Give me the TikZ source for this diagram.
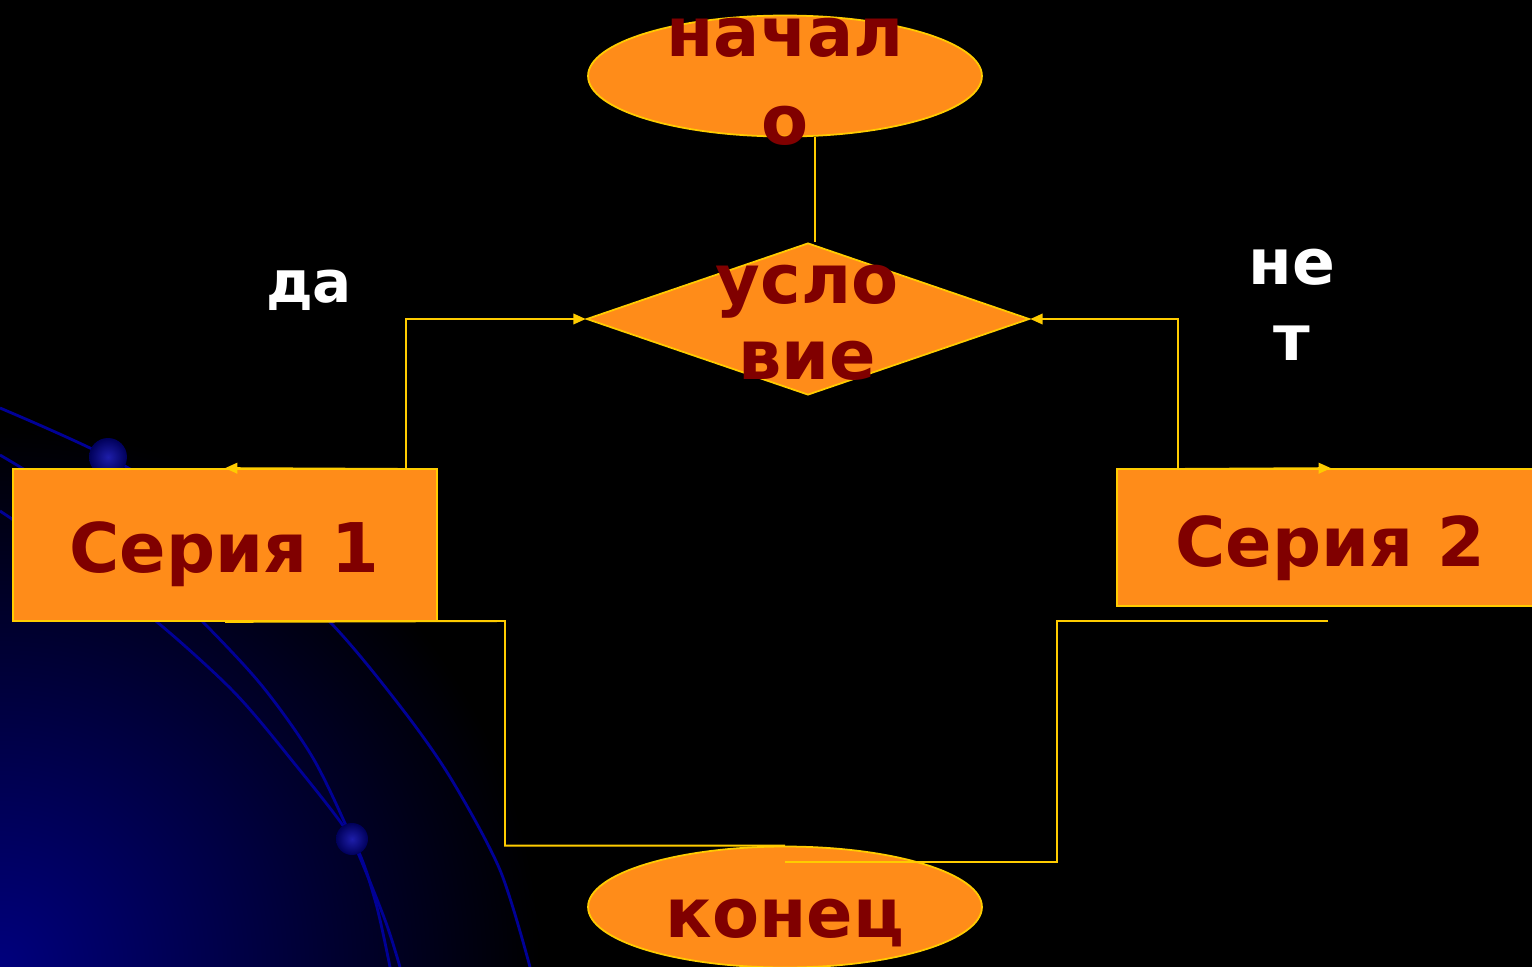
\documentclass[tikz,border=0pt]{standalone}
\usepackage{fontspec}
\newfontfamily\slidefont{DejaVu Sans}
\usetikzlibrary{shapes.geometric,arrows.meta}
\definecolor{blockorange}{RGB}{255,140,25}
\definecolor{edgeyellow}{RGB}{255,204,0}
\definecolor{textred}{RGB}{128,0,0}
\definecolor{deepblue}{RGB}{0,0,125}
\definecolor{orbitblue}{RGB}{0,0,150}

\begin{document}
\begin{tikzpicture}[x=0.02cm,y=-0.02cm,
  block/.style={fill=blockorange,draw=edgeyellow,line width=1pt,inner sep=0pt},
  txt/.style={text=textred,font=\slidefont\bfseries\fontsize{39}{43}\selectfont,align=center,inner sep=0pt},
  word/.style={text=white,font=\slidefont\bfseries\fontsize{36}{43}\selectfont,align=center,inner sep=0pt},
  flow/.style={draw=edgeyellow,line width=1.1pt},
  tip/.style={-{Triangle[length=7pt,width=6pt]}},
  orbit/.style={draw=orbitblue,line width=1.6pt},
  bead/.style={inner color={rgb,255:red,30;green,30;blue,170},outer color={rgb,255:red,0;green,0;blue,90}}]

\fill[black] (0,0) rectangle (1532,967);
\useasboundingbox (0,0) rectangle (1532,967);

% background of the slide
\begin{scope}
\clip (0,0) rectangle (1532,967);
\shade[inner color=deepblue,outer color=black] (0,967) circle (540);
\draw[orbit] plot[smooth] coordinates {(0,408) (108,457) (230,530) (330,622) (400,706) (450,777) (500,870) (530,967)};
\draw[orbit] plot[smooth] coordinates {(0,455) (100,520) (203,622) (263,687) (313,758) (352,839) (385,920) (400,967)};
\draw[orbit] plot[smooth] coordinates {(0,511) (80,565) (157,622) (233,691) (290,758) (352,839) (375,900) (390,967)};
\shade[bead] (108,457) circle (19);
\shade[bead] (352,839) circle (16);
\end{scope}

% blocks
\node[block,ellipse,minimum width=7.88cm,minimum height=2.42cm] (start) at (785,76) {};
\node[block,diamond,minimum width=8.86cm,minimum height=3.04cm] (cond) at (808,319) {};
\node[block,minimum width=8.48cm,minimum height=3.04cm] (s1) at (225,545) {};
\node[block,minimum width=8.56cm,minimum height=2.74cm] (s2) at (1331,537.5) {};
\node[block,ellipse,minimum width=7.88cm,minimum height=2.42cm] (end) at (785,907) {};

\node[txt] (tstart) at (785,82) {начал\\[7pt]о};
\node[txt] (tcond) at (807,323) {усло\\вие};
\node[txt,anchor=base] (ts1) at (224,572) {Серия 1};
\node[txt,anchor=base] (ts2) at (1330,566) {Серия 2};
\node[txt,anchor=base] (tend) at (785,937) {конец};

\node[word,anchor=base,font=\slidefont\bfseries\fontsize{33}{43}\selectfont] (yes) at (309,302) {да};
\node[word] (no) at (1292,305) {не\\т};

% connectors
\coordinate (top) at (815,137);
\coordinate (kl) at (406,469);
\coordinate (kr) at (1178,469);
\coordinate (bl) at (505,621);
\coordinate (br) at (1328,621);
\coordinate (er) at (785,862);

\draw[flow] (top) -- (top |- cond.north);
\draw[flow,tip] (kl) |- (cond.west);
\draw[flow,tip] (kl) -- (s1.north);
\draw[flow,tip] (kr) |- (cond.east);
\draw[flow,tip] (kr) -- (s2.north);
\draw[flow] (s1.south) -- (bl) |- (end.north);
\draw[flow] (br) -- ++(-271,0) |- (er);
\end{tikzpicture}
\end{document}
